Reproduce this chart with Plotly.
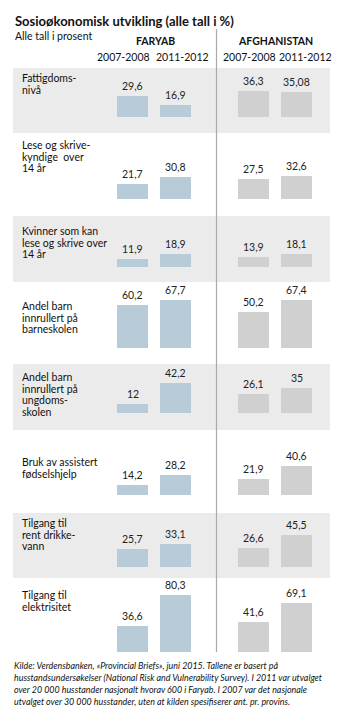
import plotly.graph_objects as go

# ---------------- data ----------------
row_labels = [
    "Fattigdoms-<br>nivå",
    "Lese og skrive-<br>kyndige  over<br>14 år",
    "Kvinner som kan<br>lese og skrive over<br>14 år",
    "Andel barn<br>innrullert på<br>barneskolen",
    "Andel barn<br>innrullert på<br>ungdoms-<br>skolen",
    "Bruk av assistert<br>fødselshjelp",
    "Tilgang til<br>rent drikke-<br>vann",
    "Tilgang til<br>elektrisitet",
]
faryab_2007 = [29.6, 21.7, 11.9, 60.2, 12, 14.2, 25.7, 36.6]
faryab_2011 = [16.9, 30.8, 18.9, 67.7, 42.2, 28.2, 33.1, 80.3]
afgh_2007 = [36.3, 27.5, 13.9, 50.2, 26.1, 21.9, 26.6, 41.6]
afgh_2011 = [35.08, 32.6, 18.1, 67.4, 35, 40.6, 45.5, 69.1]
period_labels = ["2007-2008", "2011-2012", "2007-2008", "2011-2012"]
region_labels = ["FARYAB", "AFGHANISTAN"]
title = "Sosioøkonomisk utvikling (alle tall i %)"
subtitle = "Alle tall i prosent"
source_lines = [
    "Kilde: Verdensbanken, «Provincial Briefs», juni 2015. Tallene er basert på",
    "husstandsundersøkelser (National Risk and Vulnerability Survey). I 2011 var utvalget",
    "over 20 000 husstander nasjonalt hvorav 600 i Faryab. I 2007 var det nasjonale",
    "utvalget over 30 000 husstander, uten at kilden spesifiserer ant. pr. provins.",
]

# ---------------- layout constants ----------------
W, H = 345, 723
S = 0.71  # px per percent unit
FONT = "Lato"
row_top = [68, 133, 216, 282, 364, 430, 513, 578]
row_bot = [133, 216, 282, 364, 430, 513, 578, 660]
baseline_px = [117, 199, 267, 348, 413, 495, 567, 652]
label_px = [78, 145, 231, 306, 377, 462, 523, 595]
bar_cx = [132.5, 175, 253.5, 296.5]
period_cx = [123, 182, 249, 305]
region_cx = [155, 275.5]
bar_w = 31
blue = "#b7ccd8"
grey = "#d0d0d0"
band = "#ebebeb"


def py(px):
    return (H - px) / S


bases = [py(b) for b in baseline_px]

fig = go.Figure()
series = [faryab_2007, faryab_2011, afgh_2007, afgh_2011]
colors = [blue, blue, grey, grey]
annotations = []
for cx, vals, col in zip(bar_cx, series, colors):
    fig.add_trace(go.Bar(
        x=[cx] * len(vals), y=vals, base=bases, width=bar_w,
        marker=dict(color=col, line=dict(width=0)), showlegend=False,
        hoverinfo="skip"))
    for b, v in zip(bases, vals):
        annotations.append(dict(
            x=cx, y=b + v, xref="x", yref="y", text=f"{v:g}".replace(".", ","),
            showarrow=False, yanchor="bottom", yshift=2,
            font=dict(family=FONT, size=10.5, color="#222")))

shapes = []
for i, (t, b) in enumerate(zip(row_top, row_bot)):
    if i % 2 == 0:
        shapes.append(dict(type="rect", xref="x", yref="y", x0=13, x1=330,
                           y0=py(b), y1=py(t), fillcolor=band, line=dict(width=0),
                           layer="below"))
shapes.append(dict(type="line", xref="x", yref="y", x0=216.5, x1=216.5,
                   y0=py(652), y1=py(29), line=dict(color="#aaaaaa", width=1.2)))

# row labels (each line separately for tight spacing)
for lbl, y0 in zip(row_labels, label_px):
    for k, line in enumerate(lbl.split("<br>")):
        annotations.append(dict(
            x=20, y=py(y0 + k * 11.7), xref="x", yref="y", text=line,
            showarrow=False, xanchor="left", yanchor="middle",
            font=dict(family=FONT, size=10.5, color="#111")))

# headers
annotations.append(dict(x=13, y=py(21), xref="x", yref="y", text="<b>" + title + "</b>",
                        showarrow=False, xanchor="left", yanchor="middle",
                        font=dict(family=FONT, size=13, color="#111")))
annotations.append(dict(x=13, y=py(36), xref="x", yref="y", text=subtitle,
                        showarrow=False, xanchor="left", yanchor="middle",
                        font=dict(family=FONT, size=10.5, color="#111")))
for cx, txt in zip(region_cx, region_labels):
    annotations.append(dict(x=cx, y=py(41), xref="x", yref="y", text="<b>" + txt + "</b>",
                            showarrow=False, xanchor="center", yanchor="middle",
                            font=dict(family=FONT, size=10.5, color="#111")))
for cx, txt in zip(period_cx, period_labels):
    annotations.append(dict(x=cx, y=py(57), xref="x", yref="y", text=txt,
                            showarrow=False, xanchor="center", yanchor="middle",
                            font=dict(family=FONT, size=10.5, color="#111")))
for k, line in enumerate(source_lines):
    annotations.append(dict(x=12, y=py(665 + k * 12), xref="x", yref="y",
                            text="<i>" + line + "</i>", showarrow=False,
                            xanchor="left", yanchor="middle",
                            font=dict(family=FONT, size=8.9, color="#111")))

fig.update_layout(
    width=W, height=H, margin=dict(l=0, r=0, t=0, b=0),
    paper_bgcolor="white", plot_bgcolor="white",
    xaxis=dict(range=[0, W], visible=False, fixedrange=True),
    yaxis=dict(range=[0, H / S], visible=False, fixedrange=True),
    shapes=shapes, annotations=annotations, bargap=0, barmode="overlay",
)
fig.write_html("out.html")
